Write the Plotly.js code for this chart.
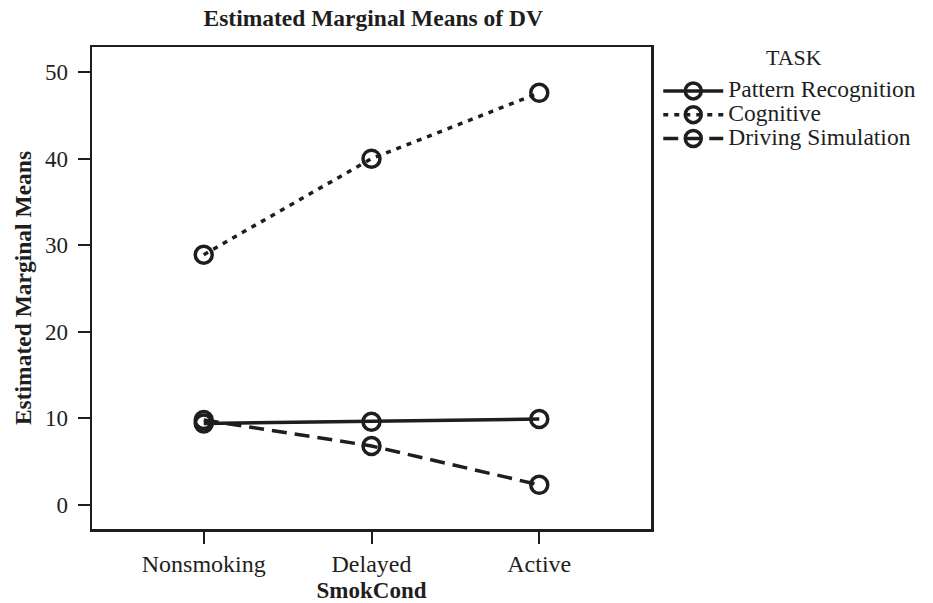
<!DOCTYPE html>
<html>
<head>
<meta charset="utf-8">
<script src="https://cdn.plot.ly/plotly-3.0.1.min.js"></script>
<style>html,body{margin:0;padding:0;background:#fff;}#chart{width:933px;height:603px;}</style>
</head>
<body>
<div id="chart"></div>
<script>
var categories = ['Nonsmoking', 'Delayed', 'Active'];
var seriesNames = ['Pattern Recognition', 'Cognitive', 'Driving Simulation'];
var legendTitle = 'TASK';
var patternRecognition = [9.4, 9.6, 9.9];
var cognitive = [28.9, 40.0, 47.6];
var drivingSimulation = [9.8, 6.8, 2.3];
var yTicks = [0, 10, 20, 30, 40, 50];

var ink = '#1e1e1e';
var font = 'Liberation Serif, Times New Roman, serif';

function trace(name, y, dash) {
  return {
    type: 'scatter', mode: 'lines+markers',
    name: '<span style="font-size:23.5px">' + name + '</span>',
    x: categories, y: y,
    line: {color: ink, width: 3.5, dash: dash},
    marker: {symbol: 'circle-open', size: 17, color: ink, line: {color: ink, width: 3.5}}
  };
}

var data = [
  trace(seriesNames[0], patternRecognition, 'solid'),
  trace(seriesNames[1], cognitive, '5px,6px'),
  trace(seriesNames[2], drivingSimulation, '15px,8px')
];

var layout = {
  width: 933, height: 603,
  paper_bgcolor: '#fff', plot_bgcolor: '#fff',
  margin: {l: 92, r: 279, t: 47, b: 74},
  font: {family: font, color: ink, size: 20},
  title: {text: '<b>Estimated Marginal Means of DV</b>', x: 0.4, xanchor: 'center', y: 0.97, yanchor: 'middle',
          font: {family: font, size: 23.5, color: ink}},
  xaxis: {
    type: 'category', range: [-0.666, 2.666],
    showline: true, mirror: true, linecolor: ink, linewidth: 2.5,
    ticks: 'outside', ticklen: 12, tickwidth: 2, tickcolor: ink,
    showgrid: false, zeroline: false,
    tickfont: {family: font, size: 24, color: ink},
    title: {text: '<b>SmokCond</b>', font: {family: font, size: 23, color: ink}, standoff: 13}
  },
  yaxis: {
    range: [-2.8, 52.9], tickvals: yTicks,
    showline: true, mirror: true, linecolor: ink, linewidth: 2.5,
    ticks: 'outside', ticklen: 12, tickwidth: 2, tickcolor: ink,
    showgrid: false, zeroline: false,
    ticklabelstandoff: 5,
    tickfont: {family: font, size: 23, color: ink},
    title: {text: '<b>Estimated Marginal Means</b>', font: {family: font, size: 23.5, color: ink}, standoff: 7}
  },
  showlegend: true,
  legend: {
    x: 1.013, xanchor: 'left', y: 0.944, yanchor: 'top',
    font: {family: font, size: 16, color: ink},
    itemwidth: 60, tracegroupgap: 0,
    bgcolor: 'rgba(0,0,0,0)'
  },
  annotations: [{
    text: legendTitle, xref: 'paper', yref: 'paper', x: 1.256, y: 0.979,
    xanchor: 'center', yanchor: 'middle', showarrow: false,
    font: {family: font, size: 22, color: ink}
  }]
};

Plotly.newPlot('chart', data, layout, {displayModeBar: false, staticPlot: true});
</script>
</body>
</html>
